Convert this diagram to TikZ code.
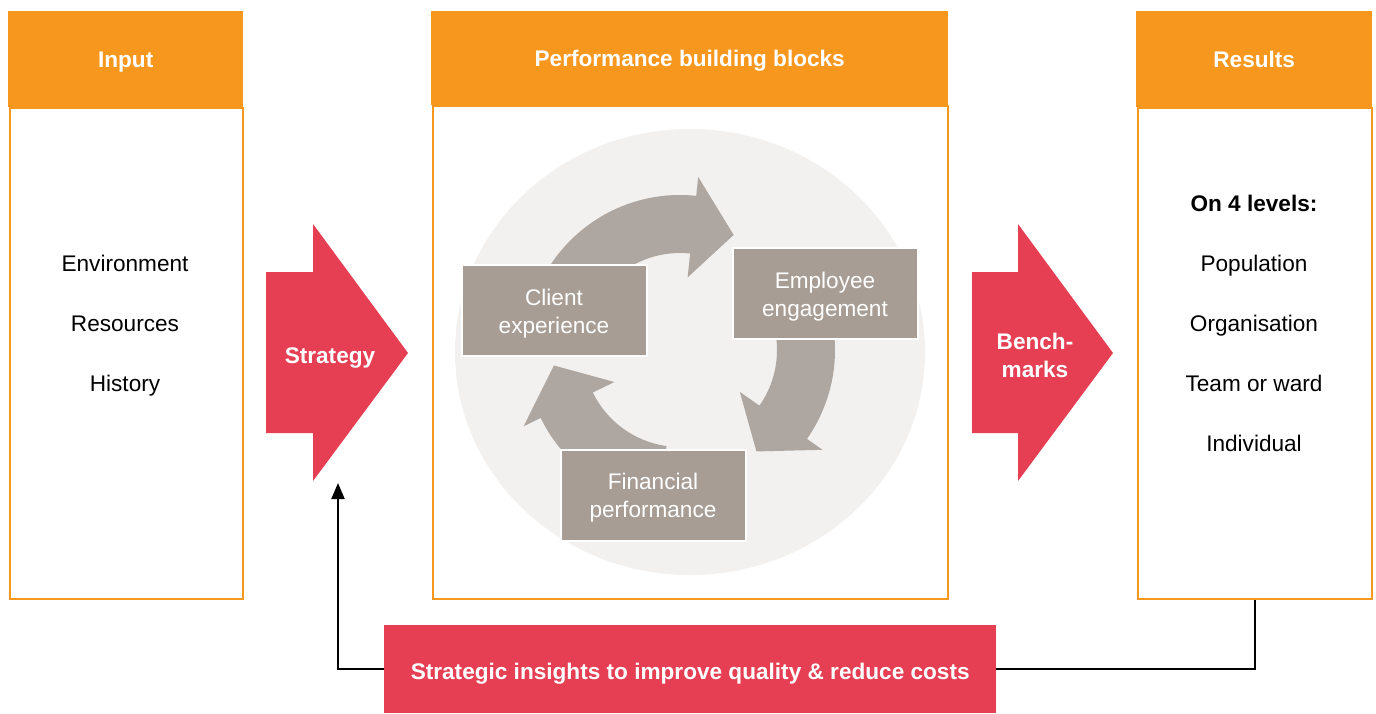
\documentclass[tikz,border=0pt]{standalone}
\usepackage{fontspec}
\setmainfont{Liberation Sans}
\usetikzlibrary{arrows.meta}
\definecolor{hdrorange}{HTML}{F7971E}
\definecolor{accred}{HTML}{E63E53}
\definecolor{ringgray}{HTML}{F2F1EF}
\definecolor{arrowgray}{HTML}{AEA6A0}
\definecolor{blockgray}{HTML}{A89D94}
\newcommand\cyclearrow[3]{%
  \fill[arrowgray] ({680+155*cos(#1)},{350-155*sin(#1)})
    arc[start angle=-#1, end angle=-#2, radius=155]
    -- ({680+174*cos(#2)},{350-174*sin(#2)})
    -- ({680+127*cos(#3)},{350-127*sin(#3)})
    -- ({680+73*cos(#2)},{350-73*sin(#2)})
    -- ({680+97*cos(#2)},{350-97*sin(#2)})
    arc[start angle=-#2, end angle=-#1, radius=97] -- cycle;}
\newcommand\bigfont{\fontsize{22.6}{28}\selectfont}
\tikzset{
  oneline/.style={text height=16.2pt, text depth=0pt},
  hdr/.style={fill=hdrorange, text=white, font=\bigfont\bfseries, inner sep=0pt, anchor=north west, oneline},
  body/.style={draw=hdrorange, line width=2pt, fill=white, inner sep=0pt, anchor=north west},
  item/.style={font=\bigfont, text=black, oneline, inner sep=0pt},
  block/.style={fill=blockgray, draw=white, line width=2pt, minimum width=185pt, minimum height=91pt, inner sep=0pt},
  blocktext/.style={text=white, align=center, font=\bigfont, inner sep=0pt},
  bigarrow/.style={fill=accred},
  redlabel/.style={text=white, font=\bigfont\bfseries, align=center, inner sep=0pt},
  conn/.style={draw=black, line width=2pt},
}
\begin{document}
\begin{tikzpicture}[x=1pt, y=-1pt]
\useasboundingbox (0,0) rectangle (1376,713);
% columns
\node[body, minimum width=233pt, minimum height=491pt] (inbody) at (9,107) {};
\node[body, minimum width=515pt, minimum height=493pt] (midbody) at (432,105) {};
\node[body, minimum width=234pt, minimum height=491pt] (resbody) at (1137,107) {};
\node[hdr, minimum width=235pt, minimum height=96pt] (inhdr) at (8,11) {Input};
\node[hdr, minimum width=517pt, minimum height=94pt] (midhdr) at (431,11) {Performance building blocks};
\node[hdr, minimum width=236pt, minimum height=96pt] (reshdr) at (1136,11) {Results};
% input items
\node[item] (env) at (125,263) {Environment};
\node[item] (resrc) at (125,323) {Resources};
\node[item] (hist) at (125,383) {History};
% results items
\node[item, font=\bigfont\bfseries] (lev) at (1254,203) {On 4 levels:};
\node[item] (pop) at (1254,263) {Population};
\node[item] (org) at (1254,323) {Organisation};
\node[item] (team) at (1254,383) {Team or ward};
\node[item] (indiv) at (1254,443) {Individual};
% central circle
\fill[ringgray] (690,352) ellipse[x radius=235, y radius=223];
\cyclearrow{170}{84}{65}
\cyclearrow{25}{-35}{-53}
\cyclearrow{262}{206}{187}
\node[block] (client) at (554,310) {};
\node[block] (employee) at (825,293) {};
\node[block] (financial) at (653,495) {};
\node[blocktext, yshift=-4pt] (clientT) at (client.center) {Client\\experience};
\node[blocktext, yshift=-4pt] (employeeT) at (employee.center) {Employee\\engagement};
\node[blocktext, yshift=-3pt] (financialT) at (financial.center) {Financial\\performance};
% strategy arrow
\fill[bigarrow] (266,272) -- (313,272) -- (313,224) -- (408,353) -- (313,481) -- (313,433) -- (266,433) -- cycle;
\node[redlabel, oneline] (strategy) at (330,355) {Strategy};
\fill[bigarrow] (972,272) -- (1018,272) -- (1018,224) -- (1113,353) -- (1018,481) -- (1018,433) -- (972,433) -- cycle;
\node[redlabel] (bench) at (1035,355) {Bench-\\marks};
% bottom insight box
\node[fill=accred, text=white, font=\bigfont\bfseries, minimum width=612pt, minimum height=88pt, inner sep=0pt, anchor=north west, text height=20.2pt, text depth=0pt] (insight) at (384,625) {Strategic insights to improve quality \& reduce costs};
\coordinate (stratbot) at (338,483);
\draw[conn, -{Triangle[length=16pt, width=13pt]}] (insight.west) -| (stratbot);
\draw[conn] (resbody.south) |- (insight.east);
\end{tikzpicture}
\end{document}
